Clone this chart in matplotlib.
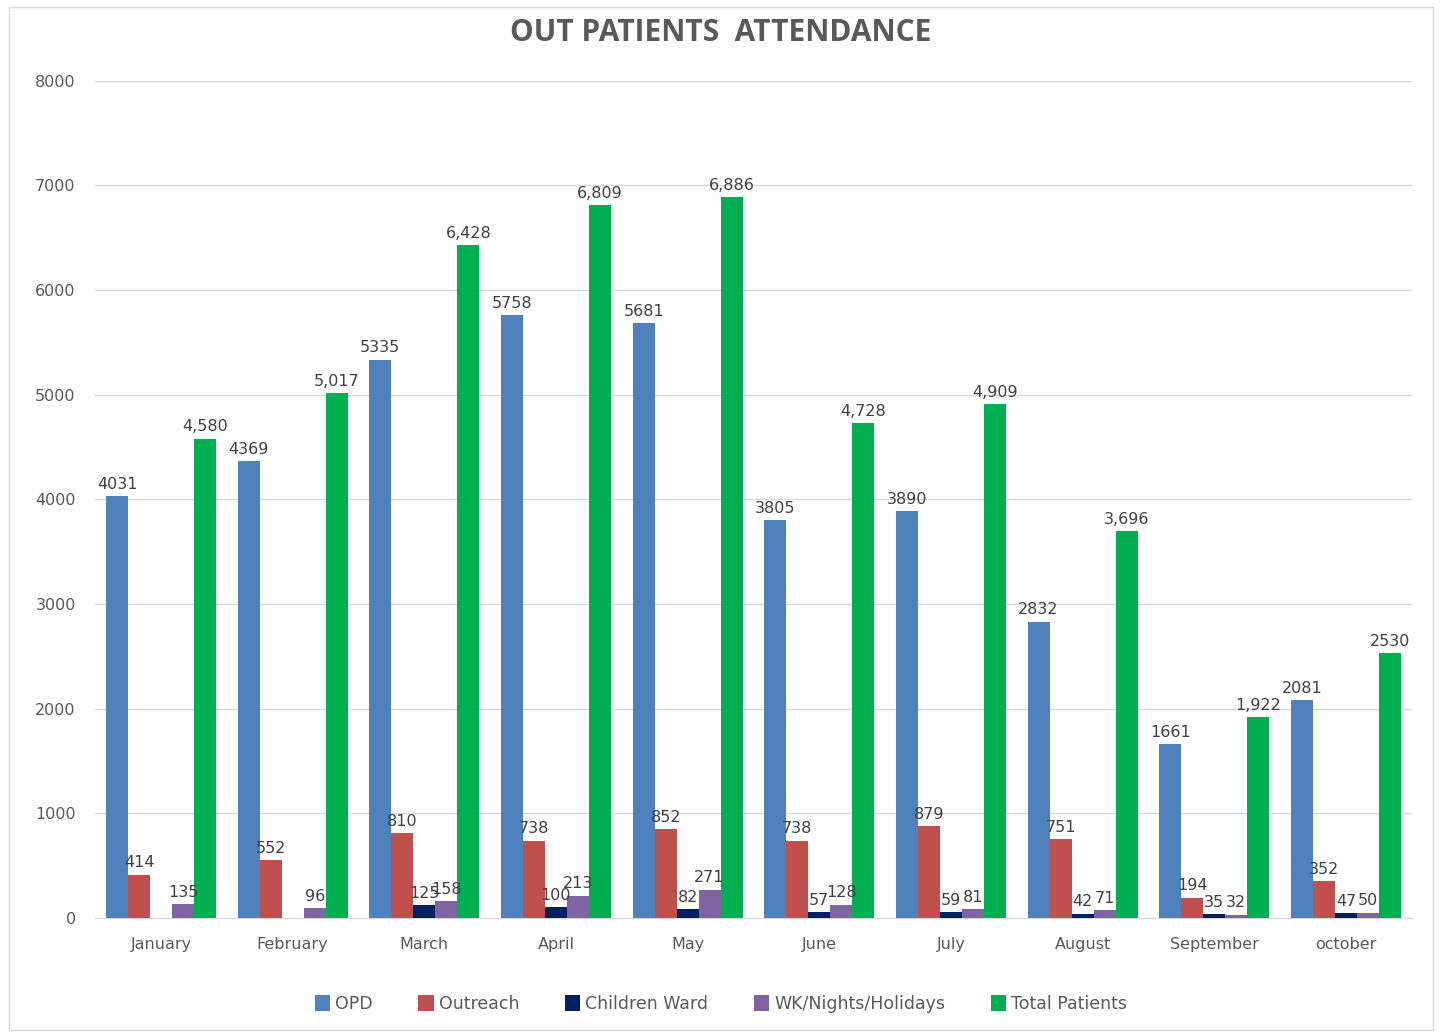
import matplotlib.pyplot as plt
import numpy as np
from matplotlib.patches import Rectangle

plt.rcParams['font.family'] = ['DejaVu Sans']

months = ['January', 'February', 'March', 'April', 'May', 'June', 'July',
          'August', 'September', 'october']
opd = [4031, 4369, 5335, 5758, 5681, 3805, 3890, 2832, 1661, 2081]
outreach = [414, 552, 810, 738, 852, 738, 879, 751, 194, 352]
children = [0, 0, 125, 100, 82, 57, 59, 42, 35, 47]
wk = [135, 96, 158, 213, 271, 128, 81, 71, 32, 50]
total = [4580, 5017, 6428, 6809, 6886, 4728, 4909, 3696, 1922, 2530]
total_labels = ['4,580', '5,017', '6,428', '6,809', '6,886', '4,728', '4,909',
                '3,696', '1,922', '2530']

series = [
    ('OPD', opd, '#4F81BD'),
    ('Outreach', outreach, '#C0504D'),
    ('Children Ward', children, '#002060'),
    ('WK/Nights/Holidays', wk, '#8064A2'),
    ('Total Patients', total, '#00B050'),
]

fig = plt.figure(figsize=(14.42, 10.36), dpi=100)
# chart border like excel
fig.patches.append(Rectangle((0.006, 0.006), 0.988, 0.987, transform=fig.transFigure,
                             fill=False, edgecolor='#D9D9D9', linewidth=1))
ax = fig.add_axes([0.066, 0.114, 0.913, 0.808])

x = np.arange(len(months))
w = 0.167
for i, (name, vals, col) in enumerate(series):
    pos = x + (i - 2) * w
    ax.bar(pos, vals, width=w, color=col, label=name, zorder=3)
    for j, v in enumerate(vals):
        if v == 0:
            continue
        txt = total_labels[j] if name == 'Total Patients' else str(v)
        ax.text(pos[j], v + 40, txt, ha='center', va='bottom', fontsize=11.5,
                color='#404040', zorder=4)

ax.set_xlim(-0.5, len(months) - 0.5)
ax.set_ylim(0, 8000)
ax.set_yticks(range(0, 8001, 1000))
ax.set_xticks(x)
ax.set_xticklabels(months)
ax.tick_params(axis='both', length=0, labelsize=11.5, labelcolor='#595959')
ax.tick_params(axis='x', pad=14)
ax.tick_params(axis='y', pad=14)
ax.grid(axis='y', color='#D9D9D9', linewidth=1, zorder=0)
for s in ['top', 'right', 'left']:
    ax.spines[s].set_visible(False)
ax.spines['bottom'].set_color('#D9D9D9')

fig.text(0.5, 0.968, 'OUT PATIENTS  ATTENDANCE', ha='center', va='center',
         fontsize=21.5, fontweight='bold', color='#595959', family='Open Sans')

leg = fig.legend(loc='center', bbox_to_anchor=(0.5, 0.031), ncol=5, frameon=False,
                 fontsize=12.5, handlelength=0.9, handleheight=1.1,
                 handletextpad=0.3, columnspacing=2.6)
for t in leg.get_texts():
    t.set_color('#595959')

fig.savefig('out.png', dpi=100)
